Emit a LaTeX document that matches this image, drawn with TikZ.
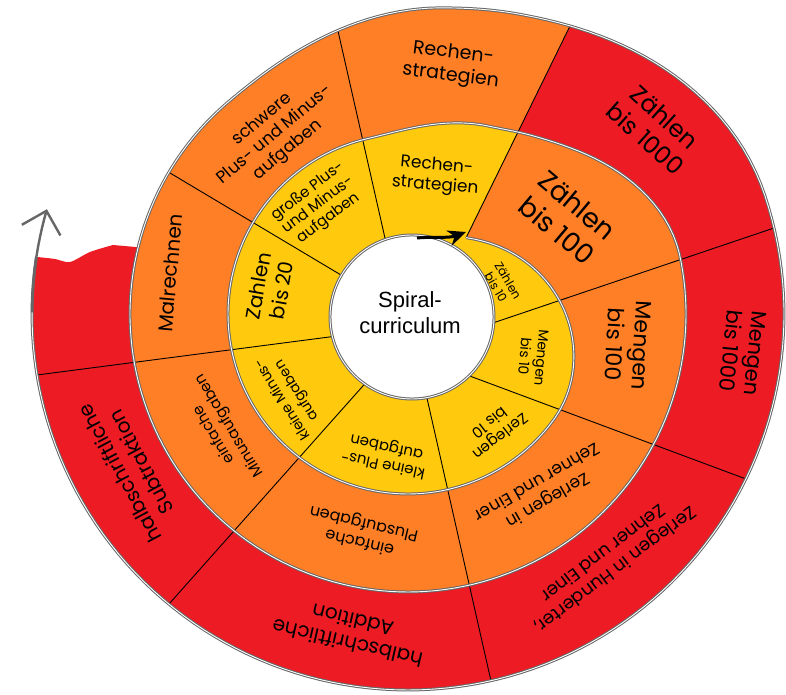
\documentclass[tikz,border=0pt]{standalone}
\usepackage{fontspec}
\setmainfont{Poppins}
\newfontfamily\headfont{Liberation Sans}
\usetikzlibrary{arrows.meta}
\definecolor{ringY}{HTML}{FFC90E}
\definecolor{ringO}{HTML}{FF7F27}
\definecolor{ringR}{HTML}{ED1C24}
\tikzset{
  lbl/.style={align=center, inner sep=0pt, text=black},
  sepline/.style={draw=black, line width=0.9pt},
  rim/.style={draw=black!60, double=white, double distance=0.9pt, line width=1pt}
}

\begin{document}
\begin{tikzpicture}[x=1pt, y=1pt,
  declare function={clampv(\t)=min(max(\t,0),1);
    sstep(\t)=3*clampv(\t)^2-2*clampv(\t)^3;
    sprr(\p)=82+98*(sstep((\p+28)/118)+0.3*sstep((\p-315)/50)+0.7*sstep((\p-352)/55)
      +0.35*sstep((\p-650)/60)+0.65*sstep((\p-697)/65));
    spra(\p)=52.7+6.2*min(\p,360)/360+1.7*max(\p-360,0)/360-\p;}]
  \useasboundingbox (0,0) rectangle (786,695);

  \begin{scope}[shift={(408,381)}]
    \fill[ringR] plot[domain=360:614, samples=80] ({spra(\x)}:{sprr(\x)})
      -- plot[smooth] coordinates {(-295,69) (-318,62) (-338,52) (-353,55) (-371,57)}
      -- plot[domain=970.5:720, samples=80] ({spra(\x)}:{sprr(\x)}) -- cycle;
    \fill[ringO] plot[domain=360:720, samples=150] ({spra(\x)}:{sprr(\x)}) -- cycle;
    \fill[ringY] plot[domain=0:360, samples=150] ({spra(\x)}:{sprr(\x)}) -- cycle;
  \end{scope}

  \coordinate (in1) at (466,457);  \coordinate (out1) at (570,669);
  \coordinate (in2) at (484,369);  \coordinate (out2) at (774,467);
  \coordinate (in3) at (459,323);  \coordinate (out3) at (746,216);
  \coordinate (in4) at (424,310);  \coordinate (out4) at (491,14);
  \coordinate (in5) at (370,317);  \coordinate (out5) at (169,91);
  \coordinate (in6) at (337,359);  \coordinate (out6) at (37,320);
  \coordinate (in7) at (346,417);  \coordinate (out7) at (170,522);
  \coordinate (in8) at (387,448);  \coordinate (out8) at (338,664);
  \path[sepline] (in1) edge (out1) (in2) edge (out2) (in3) edge (out3)
    (in4) edge (out4) (in5) edge (out5) (in6) edge (out6)
    (in7) edge (out7) (in8) edge (out8);

  \begin{scope}[shift={(408,381)}]
    \draw[rim] plot[domain=0:970.5, samples=500] ({spra(\x)}:{sprr(\x)});
    \draw[draw=black!60, line width=2.4pt, -{Straight Barb[length=20pt,width=40pt]}]
      plot[domain=962:978, samples=12] ({spra(\x)}:{sprr(\x)});
  \end{scope}

  \draw[rim, fill=white] (412,378) circle[radius=82];
  \coordinate (tail) at (417,457);
  \coordinate (tip) at (466,463);
  \draw[line width=3pt, -{Stealth[length=18pt,width=16pt]}] (tail) to[out=5, in=200] (tip);
  \node[font=\headfont\fontsize{22}{26}\selectfont, align=center] (hub) at (410,382) {Spiral-\\curriculum};

  \node[lbl, rotate=-60, font=\fontsize{12}{14}\selectfont] (zaehlenA) at (502,411) {Zählen\\bis 10};
  \node[lbl, rotate=-95, font=\fontsize{14}{17}\selectfont] (mengenA) at (533,338) {Mengen\\bis 10};
  \node[lbl, rotate=-142, font=\fontsize{15}{18}\selectfont] (zerlegenA) at (495,265) {Zerlegen\\bis 10};
  \node[lbl, rotate=168, font=\fontsize{15}{18}\selectfont] (plusA) at (385,240) {kleine Plus-\\aufgaben};
  \node[lbl, rotate=122, font=\fontsize{14}{17}\selectfont] (minusA) at (290,300) {kleine Minus-\\aufgaben};
  \node[lbl, rotate=80, font=\fontsize{20}{24}\selectfont] (zahlenA) at (270,407) {Zahlen\\bis 20};
  \node[lbl, rotate=37, font=\fontsize{15}{17}\selectfont] (grossA) at (318,490) {große Plus-\\und Minus-\\aufgaben};
  \node[lbl, rotate=-5, font=\fontsize{17}{20}\selectfont] (rechenA) at (436,519) {Rechen-\\strategien};

  \node[lbl, rotate=-40, font=\fontsize{27}{33}\selectfont] (zaehlenB) at (567,477) {Zählen\\bis 100};
  \node[lbl, rotate=-93, font=\fontsize{22}{27}\selectfont] (mengenB) at (628,350) {Mengen\\bis 100};
  \node[lbl, rotate=-150, font=\fontsize{17}{21}\selectfont] (zerlegenB) at (543,203) {Zerlegen in\\Zehner und Einer};
  \node[lbl, rotate=167, font=\fontsize{16}{19}\selectfont] (plusB) at (362,163) {einfache\\Plusaufgaben};
  \node[lbl, rotate=121, font=\fontsize{15}{18}\selectfont] (minusB) at (222,265) {einfache\\Minusaufgaben};
  \node[lbl, rotate=85, font=\fontsize{20}{24}\selectfont] (malrechnen) at (170,422) {Malrechnen};
  \node[lbl, rotate=40, font=\fontsize{17}{20}\selectfont] (schwerB) at (275,560) {schwere\\Plus- und Minus-\\aufgaben};
  \node[lbl, rotate=-7, font=\fontsize{19}{23}\selectfont] (rechenB) at (452,630) {Rechen-\\strategien};

  \node[lbl, rotate=-42, font=\fontsize{24}{29}\selectfont] (zaehlenC) at (655,567) {Zählen\\bis 1000};
  \node[lbl, rotate=-96, font=\fontsize{21}{25}\selectfont] (mengenC) at (743,343) {Mengen\\bis 1000};
  \node[lbl, rotate=-143, font=\fontsize{18}{21}\selectfont] (zerlegenC) at (610,133) {Zerlegen in Hunderter,\\Zehner und Einer};
  \node[lbl, rotate=167, font=\fontsize{20}{24}\selectfont] (addition) at (350,63) {halbschriftliche\\Addition};
  \node[lbl, rotate=118, font=\fontsize{20}{24}\selectfont] (subtraktion) at (130,227) {halbschriftliche\\Subtraktion};
\end{tikzpicture}
\end{document}
